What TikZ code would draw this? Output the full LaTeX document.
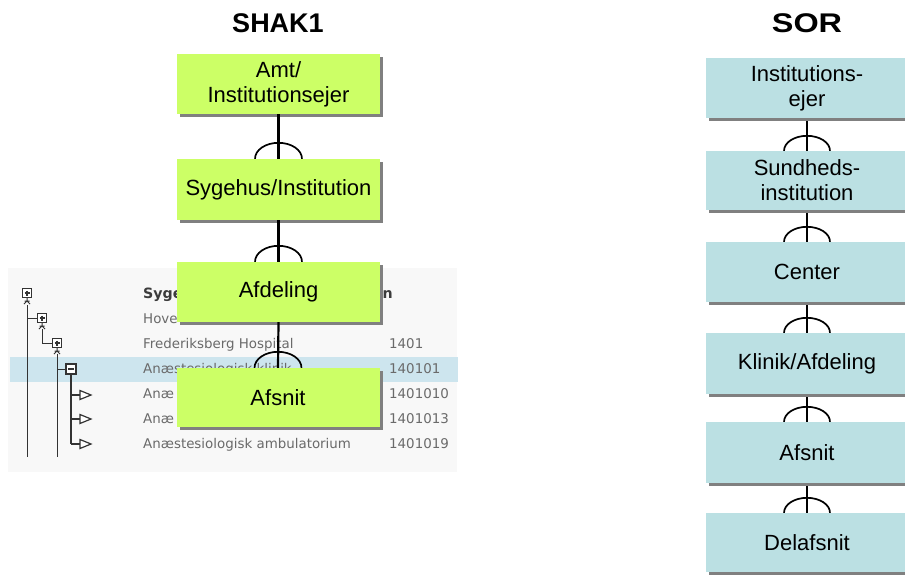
\documentclass[tikz,border=0pt]{standalone}
\usepackage{fontspec}
\usepackage{graphicx}
\setmainfont{Liberation Sans}
\newfontfamily\tabfont{DejaVu Sans}
\usetikzlibrary{shadows}
\definecolor{boxgreen}{HTML}{CCFF66}
\definecolor{boxblue}{HTML}{BBE0E3}
\definecolor{shadowgray}{HTML}{808080}
\definecolor{rowblue}{HTML}{CDE5EE}
\definecolor{tabtext}{HTML}{6A6A6A}
\definecolor{tabhead}{HTML}{3C3C3C}
\definecolor{tabbg}{HTML}{F8F8F8}
\definecolor{treeline}{HTML}{333333}
\begin{document}
\begin{tikzpicture}[x=1pt,y=-1pt,
  boxshadow/.style={drop shadow={shadow xshift=3pt,shadow yshift=-3pt,fill=shadowgray,opacity=1}},
  shak/.style={fill=boxgreen,minimum width=203pt,inner sep=0pt,align=center,
    font=\fontsize{22}{25}\selectfont,boxshadow},
  sor/.style={fill=boxblue,minimum width=202pt,inner sep=0pt,align=center,
    font=\fontsize{22}{25}\selectfont,boxshadow},
  conn/.style={draw=black,line width=2.2pt},
  hump/.style={draw=black,line width=1.7pt},
  title/.style={font=\fontsize{27}{27}\selectfont\bfseries,inner sep=0pt},
  tab/.style={font=\tabfont\fontsize{13.4}{15}\selectfont,text=tabtext,inner sep=0pt,anchor=base west},
  tabh/.style={font=\tabfont\bfseries\fontsize{14.2}{15}\selectfont,text=tabhead,inner sep=0pt,anchor=base west},
  tree/.style={draw=treeline,line width=1pt},
  treethick/.style={draw=treeline,line width=2pt},
  plusicon/.pic={
    \draw[tree,fill=white] (-4.5,-4.5) rectangle (4.5,4.5);
    \draw[tree,line width=1.2pt] (-2.5,0) -- (2.5,0) (0,-2.5) -- (0,2.5);
    \draw[tree] (0,4.5) -- (0,8) (-3,11) -- (0,8) -- (3,11) (-2.5,8) -- (2.5,8);
  },
  minusicon/.pic={
    \draw[tree,line width=1.2pt,fill=white] (-5,-5) rectangle (5,5);
    \draw[tree,line width=1.2pt] (-3,0) -- (3,0);
  },
  triicon/.pic={
    \draw[tree,line width=1.2pt,fill=white] (0,-4.5) -- (11,0) -- (0,4.5) -- cycle;
  }
]
\useasboundingbox (0,0) rectangle (905,574);
\fill[white] (0,0) rectangle (905,574);

% ---------- table screenshot ----------
\fill[tabbg] (8,268) rectangle (457,472);
\fill[rowblue] (10,357) rectangle (458,382);

\draw[tree] (27,305) -- (27,457);
\draw[tree] (27,318) -- (37.5,318);
\draw[tree] (42,329) -- (42,343) -- (52.5,343);
\draw[tree] (57,354) -- (57,457);
\draw[tree] (57,369) -- (66,369);
\draw[treethick] (71,374) -- (71,444);
\foreach \yy in {395,419,444} {
  \draw[treethick] (71,\yy) -- (80,\yy);
  \pic at (80,\yy) {triicon};
}
\pic at (27,293) {plusicon};
\pic at (42,318) {plusicon};
\pic at (57,343) {plusicon};
\pic at (71,369) {minusicon};

\node[tabh] (th) at (143,298) {Syge};
\node[tabh,anchor=base east] (th2) at (393,298) {on};
\node[tab] (r1) at (143,323) {Hove};
\node[tab] (r2) at (143,348) {Frederiksberg Hospital};
\node[tab] (r3) at (143,373) {Anæstesiologisk klinik};
\node[tab] (r4) at (143,398) {Anæ};
\node[tab] (r5) at (143,423) {Anæ};
\node[tab] (r6) at (143,448) {Anæstesiologisk ambulatorium};
\node[tab] (c2) at (389,348) {1401};
\node[tab] (c3) at (389,373) {140101};
\node[tab] (c4) at (389,398) {1401010};
\node[tab] (c5) at (389,423) {1401013};
\node[tab] (c6) at (389,448) {1401019};

% ---------- titles ----------
\node[title] (shaktitle) at (278,23) {SHAK1};
\node[title] (sortitle) at (807,23) {\scalebox{1.2}[1]{SOR}};

% ---------- SHAK1 column ----------
\node[shak,minimum height=60pt] (amt) at (278.5,84) {Amt/\\Institutionsejer};
\node[shak,minimum height=61pt] (syg) at (278.5,189.5) {Sygehus/Institution};
\node[shak,minimum height=60pt] (afd) at (278.5,292) {Afdeling};
\node[shak,minimum height=59pt] (afs) at (278,397.5) {Afsnit};

\foreach \a/\b in {amt/syg,syg/afd,afd/afs} {
  \draw[conn] (\a.south) -- (\b.north);
  \draw[hump] ([xshift=-23.5pt]\b.north) arc[start angle=180,end angle=0,x radius=23.5pt,y radius=16pt];
}

% ---------- SOR column ----------
\node[sor,minimum height=60pt] (s1) at (807,88) {Institutions-\\ejer};
\node[sor,minimum height=59pt] (s2) at (807,180.5) {Sundheds-\\institution};
\node[sor,minimum height=60pt] (s3) at (807,272) {Center};
\node[sor,minimum height=61pt] (s4) at (807,363.5) {Klinik/Afdeling};
\node[sor,minimum height=61pt] (s5) at (807,452.5) {Afsnit};
\node[sor,minimum height=59pt] (s6) at (807,542.5) {Delafsnit};

\foreach \a/\b in {s1/s2,s2/s3,s3/s4,s4/s5,s5/s6} {
  \draw[conn] ([yshift=-3pt]\a.south) -- (\b.north);
  \draw[hump] ([xshift=-23pt]\b.north) arc[start angle=180,end angle=0,x radius=23pt,y radius=15pt];
}
\end{tikzpicture}
\end{document}
